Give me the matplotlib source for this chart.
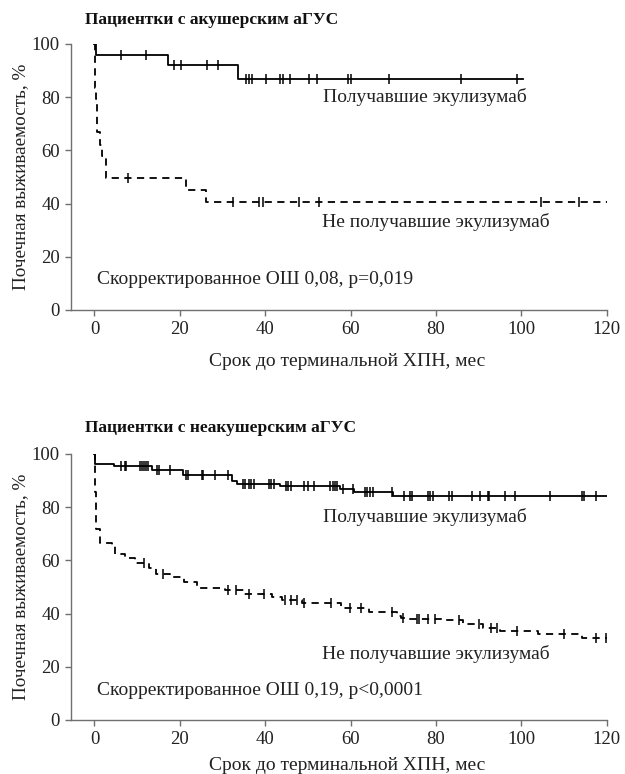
import numpy as np
import matplotlib
matplotlib.use("Agg")
import matplotlib.pyplot as plt

plt.rcParams['font.family'] = ['Liberation Serif', 'DejaVu Serif']

# --- data (months, renal survival %) ---
# obstetric aHUS, treated with eculizumab
ob_tr_t = [0, 0.3, 17.3, 33.6, 100.5]
ob_tr_s = [100, 96, 92, 87, 87]
ob_tr_cens = [6.1, 12, 18.6, 20.2, 26.4, 28.9, 35.6, 36.3, 36.8, 40.3, 43.4, 44.1,
              45.8, 50.3, 52.2, 59.4, 60, 69.1, 85.9, 99.0]
# obstetric aHUS, not treated
ob_un_t = [0, 0.15, 0.35, 0.6, 1.2, 1.7, 2.6, 21.5, 26.2, 120]
ob_un_s = [100, 83.5, 79.5, 67, 62, 58, 49.5, 45, 40.5, 40.5]
ob_un_cens = [7.9, 32.4, 38.5, 39.4, 48, 52.7, 104.5, 113.4]

# non-obstetric aHUS, treated
no_tr_t = [0, 0.2, 4.5, 13.5, 20.8, 32.2, 33.5, 43.5, 57.5, 60.7, 69.9, 120]
no_tr_s = [100, 96.2, 95.3, 93.8, 92, 90, 88.7, 87.9, 86.9, 85.6, 84.3, 84.3]
no_tr_cens = [6.2, 7.2, 7.5, 10.6, 11.1, 11.6, 12.1, 12.6, 14.6, 15.2, 17.6, 21.5, 22,
              25.2, 25.4, 28.3, 31.2, 34.7, 35.3, 36.1, 36.6, 37.4, 40.8, 41.4, 42,
              44.9, 45.4, 46, 49, 50.1, 51.5, 55.2, 55.8, 56.4, 56.9, 58.2, 60.5, 63.4,
              63.9, 64.6, 65.2, 69.6, 72.4, 74, 74.5, 78.1, 78.6, 79.2, 83.1, 83.7,
              88.4, 90.3, 92.1, 92.5, 96.2, 98.5, 106.7, 114.1, 114.7, 117.5]
# non-obstetric aHUS, not treated
no_un_t = [0, 0.1, 0.4, 1.3, 4.1, 4.9, 7.2, 9.5, 12.7, 14.5, 17.7, 20.9, 24.0, 30.5,
           35.0, 41.5, 44, 48.5, 57.8, 64.3, 70.9, 71.8, 73.5, 82.1, 86.3, 91, 95.1,
           104, 114.3, 120]
no_un_s = [100, 85.6, 71.9, 66.5, 65.5, 62.5, 61, 59.2, 57.2, 54.8, 53.7, 51.8, 49.6,
           48.7, 47.5, 46.2, 45, 44, 42.2, 40.6, 39.1, 38.5, 37.8, 37.5, 36, 34.6, 33.5,
           32.5, 31, 31]
no_un_cens = [11.5, 16.0, 31.2, 33.1, 36.3, 39.6, 44.7, 46.1, 47.5, 49.2, 55.3, 59.9,
              62.4, 69.7, 72.3, 75.5, 76, 78.2, 79.7, 85.3, 90, 92.8, 94.2, 98.9, 110,
              117.6, 119.9]

titles = ["Пациентки с акушерским аГУС", "Пациентки с неакушерским аГУС"]
stats = ["Скорректированное ОШ 0,08, p=0,019", "Скорректированное ОШ 0,19, p<0,0001"]
lbl_tr = "Получавшие экулизумаб"
lbl_un = "Не получавшие экулизумаб"
xticks = [0, 20, 40, 60, 80, 100, 120]
yticks = [0, 20, 40, 60, 80, 100]


def surv_at(t, s, x):
    idx = np.searchsorted(t, x, side='right') - 1
    return np.asarray(s)[idx]


def km(ax, t, s, cens, ls):
    ax.step(t, s, where='post', color='black', lw=1.3, ls=ls,
            dashes=(4, 3) if ls == '--' else (None, None))
    ax.plot(cens, surv_at(t, s, cens), ls='none', marker='|', ms=7, mew=1.1,
            color='black')


fig = plt.figure(figsize=(6.25, 7.74), dpi=100)

panels = [
    (0.5995, ob_tr_t, ob_tr_s, ob_tr_cens, ob_un_t, ob_un_s, ob_un_cens,
     (80.2, 33, 11.6), 20, -0.163),
    (0.0698, no_tr_t, no_tr_s, no_tr_cens, no_un_t, no_un_s, no_un_cens,
     (76.2, 24.7, 10.9), 428, -0.138),
]

for i, (bot, tt, ts, tc, ut, us, uc, ty, title_y, xl_y) in enumerate(panels):
    ax = fig.add_axes([71 / 625, bot, 535.7 / 625, 266 / 774])
    km(ax, tt, ts, tc, '-')
    km(ax, ut, us, uc, '--')
    ax.set_xlim(-5.5, 120)
    ax.set_ylim(0, 100)
    ax.set_xticks(xticks)
    ax.set_yticks(yticks)
    for sp in ['top', 'right']:
        ax.spines[sp].set_visible(False)
    for sp in ['left', 'bottom']:
        ax.spines[sp].set_color('#707070')
        ax.spines[sp].set_linewidth(1.0)
    ax.tick_params(colors='#707070', labelcolor='#222222', labelsize=13.5,
                   length=4, width=1.0, pad=4)
    ax.text(53.5, ty[0], lbl_tr, fontsize=14, va='center', ha='left', color='#222222')
    ax.text(53.4, ty[1], lbl_un, fontsize=14, va='center', ha='left', color='#222222')
    ax.text(0.65, ty[2], stats[i], fontsize=14, va='center', ha='left', color='#222222')
    ax.set_xlabel("Срок до терминальной ХПН, мес", fontsize=14, color='#222222')
    ax.xaxis.set_label_coords(0.515, xl_y)
    ax.set_ylabel("Почечная выживаемость, %", fontsize=13.8, color='#222222',
                  labelpad=2)
    fig.text(85 / 625, 1 - title_y / 774, titles[i], fontsize=12.5,
             fontweight='bold', ha='left', va='center', color='#111111')

fig.savefig("out.png", dpi=100)
